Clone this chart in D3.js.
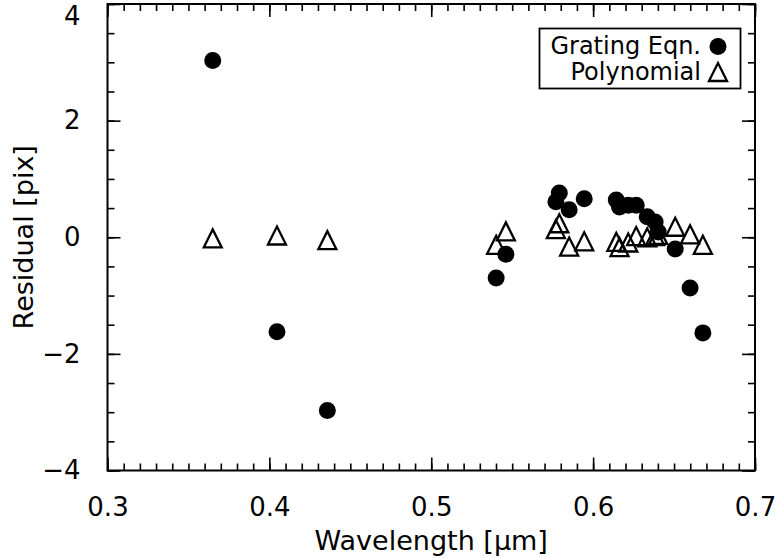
<!DOCTYPE html>
<html>
<head>
<meta charset="utf-8">
<script src="https://cdn.jsdelivr.net/npm/d3@7/dist/d3.min.js"></script>
<style>
  html, body { margin: 0; padding: 0; background: #fff; }
  svg text { font-family: "DejaVu Sans", sans-serif; fill: #000; }
</style>
</head>
<body>
<svg id="chart" width="775" height="558"></svg>
<script>
// Calibration lamp lines (Hg + Ne), in microns
const wavelengths = [0.3650, 0.4047, 0.4358, 0.5401, 0.5461, 0.5770, 0.5791, 0.5852, 0.5945,
                     0.6143, 0.6163, 0.6217, 0.6266, 0.6334, 0.6383, 0.6402, 0.6507, 0.6599, 0.6678];
// Fit residuals in pixels for each solution
const gratingResidual = [3.03, -1.62, -2.97, -0.70, -0.29, 0.61, 0.76, 0.47, 0.66,
                         0.64, 0.52, 0.55, 0.55, 0.35, 0.26, 0.09, -0.20, -0.87, -1.64];
const polyResidual    = [-0.02, 0.03, -0.05, -0.13, 0.10, 0.14, 0.24, -0.16, -0.07,
                         -0.08, -0.17, -0.09, 0.02, 0.00, 0.02, 0.04, 0.18, 0.05, -0.13];
const xTicks = [0.3, 0.4, 0.5, 0.6, 0.7];
const yTicks = [-4, -2, 0, 2, 4];
const seriesNames = ["Grating Eqn.", "Polynomial"];

(function draw() {
  const svg = d3.select("#chart");
  const pLeft = 107.5, pRight = 755, pTop = 4, pBottom = 470.5;

  const x = d3.scaleLinear().domain([0.3, 0.7]).range([pLeft, pRight]);
  const y = d3.scaleLinear().domain([-4, 4]).range([pBottom, pTop]);

  const majorLen = 13, minorLen = 7;
  const xMinor = d3.range(0.3, 0.7001, 0.01).map(v => +v.toFixed(2));
  const yMinor = d3.range(-4, 4.001, 0.5);
  const tickFont = 26, titleFont = 27, legendFont = 24;

  function styleAxis(g) {
    g.select(".domain").remove();
    g.selectAll(".tick line").attr("stroke", "#000").attr("stroke-width", 1.6);
  }

  // bottom axis: major ticks with labels, minor ticks without
  svg.append("g").attr("transform", `translate(0,${pBottom})`)
    .call(d3.axisBottom(x).tickValues(xMinor).tickSizeInner(-minorLen).tickSizeOuter(0).tickFormat(""))
    .call(styleAxis);
  svg.append("g").attr("transform", `translate(0,${pBottom})`)
    .call(d3.axisBottom(x).tickValues(xTicks).tickSizeInner(-majorLen).tickSizeOuter(0)
          .tickFormat(d3.format(".1f")).tickPadding(27))
    .call(styleAxis)
    .call(g => g.selectAll("text").attr("font-size", tickFont).attr("dy", "0.71em"));

  // top axis
  svg.append("g").attr("transform", `translate(0,${pTop})`)
    .call(d3.axisTop(x).tickValues(xMinor).tickSizeInner(-minorLen).tickSizeOuter(0).tickFormat(""))
    .call(styleAxis);
  svg.append("g").attr("transform", `translate(0,${pTop})`)
    .call(d3.axisTop(x).tickValues(xTicks).tickSizeInner(-majorLen).tickSizeOuter(0).tickFormat(""))
    .call(styleAxis);

  // left axis
  svg.append("g").attr("transform", `translate(${pLeft},0)`)
    .call(d3.axisLeft(y).tickValues(yMinor).tickSizeInner(-minorLen).tickSizeOuter(0).tickFormat(""))
    .call(styleAxis);
  svg.append("g").attr("transform", `translate(${pLeft},0)`)
    .call(d3.axisLeft(y).tickValues(yTicks).tickSizeInner(-majorLen).tickSizeOuter(0)
          .tickFormat(d => d < 0 ? "\u2212" + Math.abs(d) : String(d)).tickPadding(27))
    .call(styleAxis)
    .call(g => g.selectAll("text").attr("font-size", tickFont)
      // keep the top label inside the canvas
      .attr("dy", d => d === 4 ? "0.72em" : "0.32em")
      .attr("y", d => d === 4 ? -y(4) + 6 : 0));

  // right axis
  svg.append("g").attr("transform", `translate(${pRight},0)`)
    .call(d3.axisRight(y).tickValues(yMinor).tickSizeInner(-minorLen).tickSizeOuter(0).tickFormat(""))
    .call(styleAxis);
  svg.append("g").attr("transform", `translate(${pRight},0)`)
    .call(d3.axisRight(y).tickValues(yTicks).tickSizeInner(-majorLen).tickSizeOuter(0).tickFormat(""))
    .call(styleAxis);

  // plot frame
  svg.append("rect")
    .attr("x", pLeft).attr("y", pTop)
    .attr("width", pRight - pLeft).attr("height", pBottom - pTop)
    .attr("fill", "none").attr("stroke", "#000").attr("stroke-width", 2);

  // axis titles
  svg.append("text")
    .attr("x", (pLeft + pRight) / 2).attr("y", 550)
    .attr("text-anchor", "middle").attr("font-size", titleFont)
    .text("Wavelength [\u03bcm]");
  svg.append("text")
    .attr("transform", `translate(33,${(pTop + pBottom) / 2}) rotate(-90)`)
    .attr("text-anchor", "middle").attr("font-size", titleFont)
    .text("Residual [pix]");

  // markers
  const circleR = 8.5;
  const triHalf = 9;
  const triPath = h => `M${-h},${h}L0,${-h}L${h},${h}Z`;

  const pts = wavelengths.map((w, i) => ({ w, g: gratingResidual[i], p: polyResidual[i] }));

  svg.append("g").selectAll("circle").data(pts).join("circle")
    .attr("cx", d => x(d.w)).attr("cy", d => y(d.g))
    .attr("r", circleR).attr("fill", "#000");

  svg.append("g").selectAll("path").data(pts).join("path")
    .attr("transform", d => `translate(${x(d.w)},${y(d.p)})`)
    .attr("d", triPath(triHalf))
    .attr("fill", "none").attr("stroke", "#000").attr("stroke-width", 2.3)
    .attr("stroke-linejoin", "miter");

  // legend
  const lg = svg.append("g");
  lg.append("rect").attr("x", 539.5).attr("y", 28.5).attr("width", 201).attr("height", 60)
    .attr("fill", "#fff").attr("stroke", "#000").attr("stroke-width", 1.8);
  lg.append("text").attr("x", 701).attr("y", 54).attr("text-anchor", "end").attr("font-size", legendFont)
    .text(seriesNames[0]);
  lg.append("text").attr("x", 701).attr("y", 80).attr("text-anchor", "end").attr("font-size", legendFont)
    .text(seriesNames[1]);
  lg.append("circle").attr("cx", 718).attr("cy", 46.5).attr("r", circleR).attr("fill", "#000");
  lg.append("path").attr("transform", "translate(718,72)").attr("d", triPath(triHalf))
    .attr("fill", "none").attr("stroke", "#000").attr("stroke-width", 2.3);
})();
</script>
</body>
</html>
